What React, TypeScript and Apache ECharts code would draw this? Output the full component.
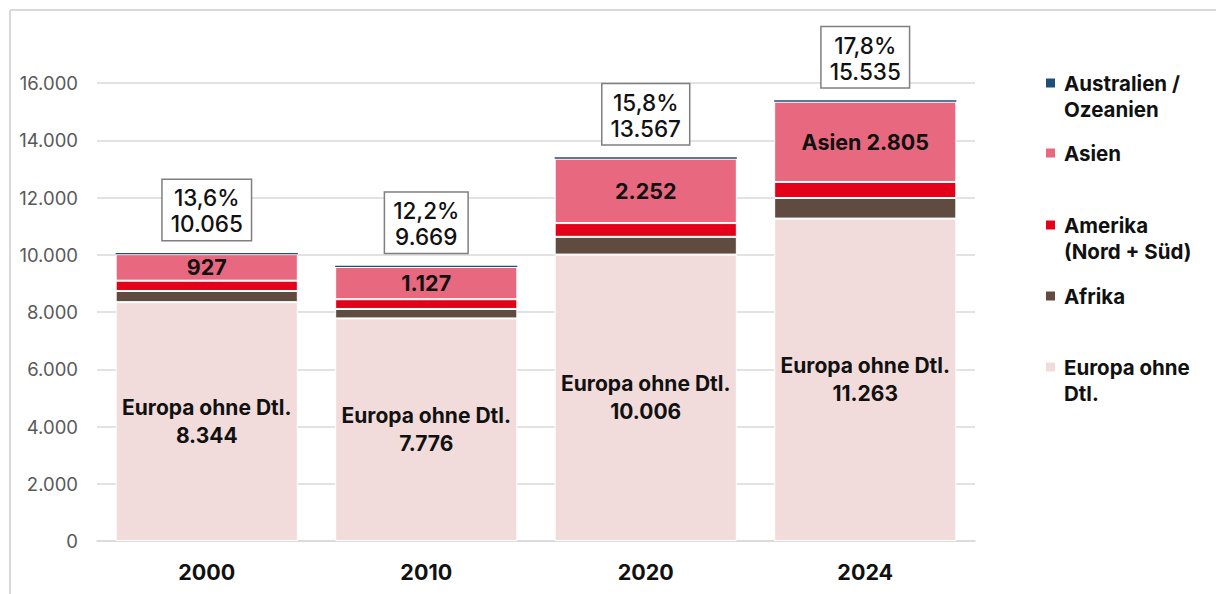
import React, { useEffect, useRef } from "react";
import * as echarts from "echarts";

const categories = ["2000", "2010", "2020", "2024"];
const europa = [8344, 7776, 10006, 11263];
const afrika = [390, 330, 620, 720];
const amerika = [360, 340, 480, 560];
const asien = [927, 1127, 2252, 2805];
const australien = [44, 45, 50, 50];
const totals = [10065, 9669, 13567, 15535];
const shares = ["13,6%", "12,2%", "15,8%", "17,8%"];
const asienPrefix = ["", "", "", "Asien "];
const yTicks = { min: 0, max: 16000, interval: 2000 };

const legendItems = [
  { name: "Australien /\nOzeanien", color: "#1F4E79", y: 83 },
  { name: "Asien", color: "#E8697F", y: 153 },
  { name: "Amerika\n(Nord + Süd)", color: "#E2001A", y: 225 },
  { name: "Afrika", color: "#5F4B3F", y: 296 },
  { name: "Europa ohne\nDtl.", color: "#F2DCDB", y: 367 },
];

const FONT = "Inter, 'Noto Sans', sans-serif";
const fmt = (v: number) => v.toLocaleString("de-DE");

export default function App() {
  const ref = useRef<HTMLDivElement>(null);
  useEffect(() => {
    if (!ref.current) return;
    const chart = echarts.init(ref.current, undefined, { renderer: "svg" });
    const base = {
      type: "bar",
      stack: "total",
      barCategoryGap: "17%",
      itemStyle: { borderColor: "#ffffff", borderWidth: 1 },
      emphasis: { disabled: true },
    };
    const legendGraphics: any[] = [];
    legendItems.forEach((it) => {
      legendGraphics.push({
        type: "rect",
        shape: { x: 1046, y: it.y - 4.5, width: 9, height: 9 },
        style: { fill: it.color },
      });
      legendGraphics.push({
        type: "text",
        x: 1064,
        y: it.y - 13,
        style: {
          text: it.name,
          font: `bold 20.5px ${FONT}`,
          fill: "#111111",
          lineHeight: 26,
          verticalAlign: "top",
        },
      });
    });
    chart.setOption({
      animation: false,
      textStyle: { fontFamily: FONT },
      grid: { left: 97, right: 241, top: 83, bottom: 53, containLabel: false },
      xAxis: {
        type: "category",
        data: categories,
        axisLine: { lineStyle: { color: "#d9d9d9", width: 1.5 } },
        axisTick: { show: false },
        axisLabel: {
          fontSize: 21.5,
          fontWeight: "bold",
          color: "#111111",
          margin: 20,
          fontFamily: FONT,
        },
      },
      yAxis: {
        type: "value",
        min: yTicks.min,
        max: yTicks.max,
        interval: yTicks.interval,
        axisLine: { show: false },
        axisTick: { show: false },
        splitLine: { lineStyle: { color: "#d9d9d9", width: 1.5 } },
        axisLabel: {
          fontSize: 18.5,
          color: "#595959",
          margin: 19,
          fontFamily: FONT,
          formatter: (v: number) => fmt(v),
        },
      },
      series: [
        {
          ...base,
          name: "Europa ohne Dtl.",
          data: europa,
          itemStyle: { ...base.itemStyle, color: "#F2DCDB" },
          label: {
            show: true,
            position: "inside",
            fontSize: 21,
            fontWeight: "bold",
            color: "#111111",
            lineHeight: 28,
            fontFamily: FONT,
            formatter: (p: any) => `Europa ohne Dtl.\n${fmt(p.value)}`,
          },
        },
        {
          ...base,
          name: "Afrika",
          data: afrika,
          itemStyle: { ...base.itemStyle, color: "#5F4B3F" },
        },
        {
          ...base,
          name: "Amerika (Nord + Süd)",
          data: amerika,
          itemStyle: { ...base.itemStyle, color: "#E2001A" },
        },
        {
          ...base,
          name: "Asien",
          data: asien,
          itemStyle: { ...base.itemStyle, color: "#E8697F" },
          label: {
            show: true,
            position: "inside",
            fontSize: 21.5,
            fontWeight: "bold",
            color: "#111111",
            fontFamily: FONT,
            formatter: (p: any) => `${asienPrefix[p.dataIndex]}${fmt(p.value)}`,
          },
        },
        {
          ...base,
          name: "Australien / Ozeanien",
          data: australien,
          itemStyle: { color: "#1F4E79", borderWidth: 0 },
          label: {
            show: true,
            position: "top",
            distance: 13,
            fontSize: 22.5,
            fontWeight: 500,
            color: "#111111",
            lineHeight: 26,
            fontFamily: FONT,
            backgroundColor: "#ffffff",
            borderColor: "#7f7f7f",
            borderWidth: 1.5,
            padding: [5, 8, 3, 8],
            formatter: (p: any) => `${shares[p.dataIndex]}\n${fmt(totals[p.dataIndex])}`,
          },
        },
      ],
      graphic: [
        {
          type: "line",
          shape: { x1: 10, y1: 10, x2: 1216, y2: 10 },
          style: { stroke: "#d9d9d9", lineWidth: 2 },
        },
        {
          type: "line",
          shape: { x1: 10, y1: 10, x2: 10, y2: 594 },
          style: { stroke: "#d9d9d9", lineWidth: 2 },
        },
        ...legendGraphics,
      ],
    });
    return () => chart.dispose();
  }, []);
  return (
    <div
      ref={ref}
      style={{ position: "fixed", left: 0, top: 0, width: 1216, height: 594, background: "#ffffff" }}
    />
  );
}
